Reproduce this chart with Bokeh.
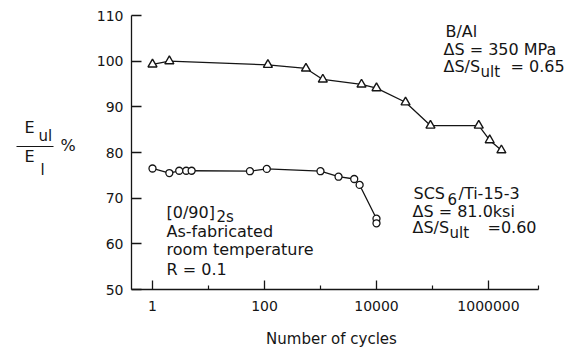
from bokeh.plotting import figure
from bokeh.models import Label, FixedTicker, Arrow, ColumnDataSource, LinearAxis, LogAxis
from bokeh.embed import file_html
from bokeh.resources import INLINE

# ---------------- data ----------------
bal_cycles = [1, 2, 115, 550, 1100, 5400, 10000, 33000, 92000, 670000, 1050000, 1700000]
bal_ratio = [99.3, 100.0, 99.2, 98.4, 96.0, 94.9, 94.1, 91.0, 85.9, 85.9, 82.7, 80.5]

scs_cycles = [1, 2, 3, 4, 5, 55, 110, 1000, 2100, 4000, 5000, 10000, 10000]
scs_ratio = [76.5, 75.5, 76.0, 76.0, 76.0, 75.9, 76.4, 75.9, 74.7, 74.2, 72.9, 65.5, 64.5]

y_ticks = [50, 60, 70, 80, 90, 100, 110]
x_major = [1, 100, 10000, 1000000]
x_major_labels = ["1", "100", "10000", "1000000"]
x_minor = [10, 1000, 100000]

# ---------------- layout ----------------
W, H = 567, 347
L, R, T, B = 131, 538, 15, 289   # pixel box of the drawn axes
X0, DEC = 152.0, 56.0            # pixel position of N=1, pixels per decade
Y0, Y1 = 50, 110
YPX = (Y1 - Y0) / (B - T)        # data units per pixel
TEXT_SHIFT = -6                  # baseline correction for canvas-placed labels


def dx(xp):
    return 10 ** ((xp - X0) / DEC)


def dy(yp):
    return Y0 + (B - yp) * YPX


FONT = "DejaVu Sans"
INK = "#151515"

p = figure(width=W, height=H, x_axis_type="log",
           x_range=(dx(0), dx(W)), y_range=(dy(H), dy(0)),
           x_axis_location=None, y_axis_location=None,
           output_backend="svg", toolbar_location=None,
           min_border=0, min_border_left=0, min_border_right=0,
           min_border_top=0, min_border_bottom=0)
p.title.visible = False
p.outline_line_color = None
p.grid.visible = False
p.background_fill_color = "white"
p.border_fill_color = "white"

# y axis (fixed inside the canvas)
ya = LinearAxis(fixed_location=dx(L), bounds=(Y0, Y1))
ya.ticker = FixedTicker(ticks=y_ticks, minor_ticks=[])
ya.major_tick_in = 10
ya.major_tick_out = 0
ya.minor_tick_in = 0
ya.minor_tick_out = 0
ya.major_label_standoff = 8
ya.major_label_text_font = FONT
ya.major_label_text_font_size = "14px"
ya.major_label_text_color = INK
ya.axis_line_color = INK
ya.axis_line_width = 1.3
ya.major_tick_line_color = INK
ya.major_tick_line_width = 1.3
p.add_layout(ya, "left")

# x axis (fixed inside the canvas)
xa = LogAxis(fixed_location=Y0, bounds=(dx(L), dx(R)))
xa.ticker = FixedTicker(ticks=x_major, minor_ticks=x_minor + [dx(R - 0.5)])
xa.major_label_overrides = {v: s for v, s in zip(x_major, x_major_labels)}
xa.major_tick_in = 9
xa.major_tick_out = 0
xa.minor_tick_in = 4
xa.minor_tick_out = 0
xa.major_label_standoff = 11
xa.major_label_text_font = FONT
xa.major_label_text_font_size = "14px"
xa.major_label_text_color = INK
xa.axis_line_color = INK
xa.axis_line_width = 1.3
xa.major_tick_line_color = INK
xa.major_tick_line_width = 1.3
xa.minor_tick_line_color = INK
xa.minor_tick_line_width = 1.2
p.add_layout(xa, "below")

# series
bal = ColumnDataSource(dict(x=bal_cycles, y=bal_ratio))
scs = ColumnDataSource(dict(x=scs_cycles, y=scs_ratio))

p.line("x", "y", source=bal, line_color=INK, line_width=1.3)
p.scatter("x", "y", source=bal, marker="triangle", size=9,
          fill_color="white", line_color=INK, line_width=1.4)

scs_line = ColumnDataSource(dict(x=scs_cycles[:-1], y=scs_ratio[:-1]))
p.line("x", "y", source=scs_line, line_color=INK, line_width=1.3)
p.scatter("x", "y", source=scs, marker="circle", size=7,
          fill_color="white", line_color=INK, line_width=1.3)


def txt(xp, yp, s, size=16, align="left"):
    p.add_layout(Label(x=xp, y=yp + TEXT_SHIFT, x_units="canvas", y_units="canvas",
                       text=s, text_font=FONT,
                       text_font_size=f"{size}px", text_color=INK,
                       text_align=align, text_baseline="alphabetic"))


# x-axis title
txt(331, 344, "Number of cycles", 15, "center")

# B/Al block
txt(445, 37, "B/Al")
txt(443, 55, "\u0394S = 350 MPa")
txt(443, 72, "\u0394S/S")
txt(480, 77, "ult", 15)
txt(510, 72, "= 0.65")

# SCS6/Ti-15-3 block
txt(413, 199, "SCS")
txt(447, 204, "6", 15)
txt(458, 199, "/Ti-15-3")
txt(412, 217, "\u0394S = 81.0ksi")
txt(412, 233, "\u0394S/S")
txt(449, 238, "ult", 15)
txt(487, 233, "=0.60")

# specimen block
txt(166, 218, "[0/90]")
txt(216, 222, "2s", 15)
txt(166, 237, "As-fabricated")
txt(166, 255, "room temperature")
txt(166, 275, "R = 0.1")

# y-axis label as a fraction
txt(24, 133, "E")
txt(38, 141, "ul", 15)
txt(24, 162, "E")
txt(40, 175, "l", 15)
txt(60, 151, "%")
p.add_layout(Arrow(start=None, end=None, x_start=16, y_start=146,
                   x_end=53, y_end=146, start_units="canvas", end_units="canvas",
                   line_color=INK, line_width=1.2))

open("out.html", "w").write(file_html(p, INLINE))
